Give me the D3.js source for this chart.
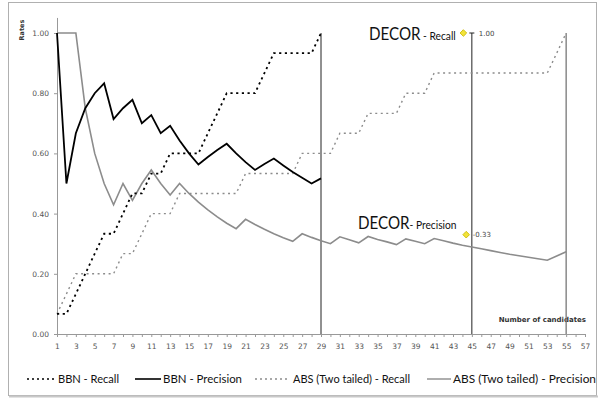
<!DOCTYPE html>
<html><head><meta charset="utf-8">
<script src="https://cdn.jsdelivr.net/npm/d3@7"></script>
<style>body{margin:0;background:#fff}svg{display:block}</style>
</head><body>
<svg id="c" width="599" height="398"></svg>
<script>
const bbnX = d3.range(1, 30);
const absX = d3.range(1, 56);
const bbnRecall = [0.067,0.067,0.133,0.2,0.267,0.333,0.333,0.4,0.467,0.467,0.533,0.533,0.6,0.6,0.6,0.6,0.667,0.733,0.8,0.8,0.8,0.8,0.867,0.933,0.933,0.933,0.933,0.933,1.0];
const bbnPrecision = [1,0.5,0.667,0.75,0.8,0.833,0.714,0.75,0.778,0.7,0.727,0.667,0.692,0.643,0.6,0.563,0.588,0.611,0.632,0.6,0.571,0.545,0.565,0.583,0.56,0.538,0.519,0.5,0.517];
const absRecall = [0.067,0.133,0.2,0.2,0.2,0.2,0.2,0.267,0.267,0.333,0.4,0.4,0.4,0.467,0.467,0.467,0.467,0.467,0.467,0.467,0.533,0.533,0.533,0.533,0.533,0.533,0.6,0.6,0.6,0.6,0.667,0.667,0.667,0.733,0.733,0.733,0.733,0.8,0.8,0.8,0.867,0.867,0.867,0.867,0.867,0.867,0.867,0.867,0.867,0.867,0.867,0.867,0.867,0.933,1.0];
const absPrecision = [1,1,1,0.75,0.6,0.5,0.429,0.5,0.444,0.5,0.545,0.5,0.462,0.5,0.467,0.438,0.412,0.389,0.368,0.35,0.381,0.364,0.348,0.333,0.32,0.308,0.333,0.321,0.31,0.3,0.323,0.313,0.303,0.324,0.314,0.306,0.297,0.316,0.308,0.3,0.317,0.31,0.302,0.295,0.289,0.283,0.277,0.271,0.265,0.26,0.255,0.25,0.245,0.259,0.273];
const yTicks = [0, 0.2, 0.4, 0.6, 0.8, 1.0];
const cutoffs = [29, 45, 55];
const decorX = [44.1, 44.4];
const decorValues = [1.00, 0.33];
const decorLabels = ["1.00", "-0.33"];
const decorNames = [" - Recall", "- Precision"];
const legendItems = ["BBN - Recall", "BBN - Precision", "ABS (Two tailed) - Recall", "ABS (Two tailed) - Precision"];

const svg = d3.select("#c");
svg.append("rect").attr("x", 8.5).attr("y", 2.5).attr("width", 588).attr("height", 393)
  .attr("fill", "#fff").attr("stroke", "#b0b0b0").attr("stroke-width", 1);
svg.append("line").attr("x1", 9).attr("x2", 598).attr("y1", 396.5).attr("y2", 396.5).attr("stroke", "#c8c8c8").attr("stroke-width", 2);

const x = d3.scaleLinear().domain([1, 57]).range([57, 585]);
const y = d3.scaleLinear().domain([0, 1]).range([334, 33]);

// axes
const yAxis = svg.append("g").attr("transform", "translate(57,0)")
  .call(d3.axisLeft(y).tickValues(yTicks).tickFormat(d3.format(".2f")).tickSize(3).tickPadding(5));
yAxis.select(".domain").remove();
svg.append("line").attr("x1", 57.5).attr("x2", 57.5).attr("y1", y(1.05)).attr("y2", y(0)).attr("stroke", "#999");
const xAxis = svg.append("g").attr("transform", "translate(0,334)")
  .call(d3.axisBottom(x).tickValues(d3.range(1, 58)).tickFormat(d => d % 2 ? d : "").tickSize(3).tickPadding(7));
xAxis.select(".domain").attr("stroke", "#999");
svg.selectAll(".tick line").attr("stroke", "#999");
svg.selectAll(".tick text").attr("fill", "#555").style("font-family", "DejaVu Sans").style("font-size", "7.5px");

svg.append("text").attr("transform", "translate(24,30) rotate(-90)").attr("text-anchor", "middle")
  .style("font-family", "DejaVu Sans").style("font-size", "6.5px").style("font-weight", "bold").attr("fill", "#333").text("Rates");
svg.append("text").attr("x", 586).attr("y", 322).attr("text-anchor", "end")
  .style("font-family", "DejaVu Sans").style("font-size", "7px").style("font-weight", "bold").attr("fill", "#333").text("Number of candidates");

// cutoff verticals
svg.selectAll("line.cut").data(cutoffs).join("line").attr("class", "cut")
  .attr("x1", d => x(d)).attr("x2", d => x(d)).attr("y1", y(1)).attr("y2", y(0))
  .attr("stroke", (d, i) => i === 2 ? "#777" : "#222").attr("stroke-width", (d, i) => i === 2 ? 1.3 : 1);
svg.append("line").attr("x1", x(45) - 2.5).attr("x2", x(45) + 2.5).attr("y1", y(1)).attr("y2", y(1)).attr("stroke", "#222");

const line = d3.line().x(d => x(d[0])).y(d => y(d[1]));
const series = [
  {xs: absX, vs: absRecall, color: "#8c8c8c", w: 1.4, dash: "2,3.5"},
  {xs: absX, vs: absPrecision, color: "#8c8c8c", w: 1.6, dash: null},
  {xs: bbnX, vs: bbnRecall, color: "#000", w: 1.8, dash: "2.2,3.5"},
  {xs: bbnX, vs: bbnPrecision, color: "#000", w: 1.8, dash: null}
];
series.forEach(s => {
  svg.append("path").datum(s.xs.map((xx, i) => [xx, s.vs[i]]))
    .attr("d", line).attr("fill", "none").attr("stroke", s.color).attr("stroke-width", s.w)
    .attr("stroke-dasharray", s.dash).attr("stroke-linejoin", "miter");
});

// DECOR markers
const sym = d3.symbol().type(d3.symbolSquare).size(22);
decorX.forEach((dx, i) => {
  svg.append("path").attr("d", sym).attr("transform", `translate(${x(dx)},${y(decorValues[i])}) rotate(45)`)
    .attr("fill", "#f2e33a").attr("stroke", "#c9b800").attr("stroke-width", 0.8);
  svg.append("text").attr("x", x(45) + (i === 0 ? 7 : 1)).attr("y", y(decorValues[i]) + 2.5)
    .style("font-family", "DejaVu Sans").style("font-size", "7px").attr("fill", "#444")
    .text(decorLabels[i]);
});
const decorPos = [[369, 40], [358, 229]];
decorPos.forEach((p, i) => {
  const t = svg.append("text").attr("transform", `translate(${p[0]},${p[1]}) scale(0.89,1)`)
    .attr("fill", "#111").style("font-family", "Lato");
  t.append("tspan").style("font-size", "17px").text("DECOR");
  t.append("tspan").style("font-size", "11.5px").text(decorNames[i]);
});

// legend
const leg = [
  {x1: 27, x2: 57, tx: 58, tw: 61, color: "#000", w: 1.6, dash: "2,3"},
  {x1: 135, x2: 161, tx: 163, tw: 79, color: "#000", w: 1.6, dash: null},
  {x1: 255, x2: 290, tx: 293, tw: 117, color: "#8c8c8c", w: 1.3, dash: "2,3"},
  {x1: 427, x2: 451, tx: 453, tw: 143, color: "#8c8c8c", w: 1.4, dash: null}
];
leg.forEach((l, i) => {
  svg.append("line").attr("x1", l.x1).attr("x2", l.x2).attr("y1", 379).attr("y2", 379)
    .attr("stroke", l.color).attr("stroke-width", l.w).attr("stroke-dasharray", l.dash);
  svg.append("text").attr("x", l.tx).attr("y", 383).attr("fill", "#111")
    .style("font-family", "Lato").style("font-size", "12px")
    .attr("textLength", l.tw).attr("lengthAdjust", "spacingAndGlyphs").text(legendItems[i]);
});
</script>
</body></html>
